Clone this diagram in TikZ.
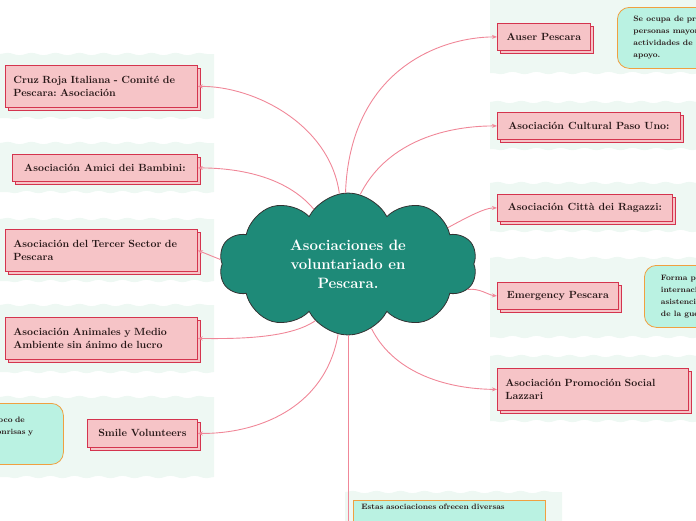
\documentclass[tikz,border=0pt]{standalone}
\usetikzlibrary{shapes.symbols,shadows,arrows.meta,decorations.pathmorphing}
\definecolor{linkpink}{RGB}{240,135,152}
\definecolor{boxpink}{RGB}{246,196,199}
\definecolor{boxred}{RGB}{212,52,78}
\definecolor{cloudgreen}{RGB}{30,138,120}
\definecolor{notegreen}{RGB}{186,242,226}
\definecolor{noteorange}{RGB}{240,160,64}
\definecolor{bandmint}{RGB}{238,248,243}
\definecolor{textdark}{RGB}{40,24,24}
\frenchspacing
\begin{document}
\begin{tikzpicture}[x=1pt,y=-1pt,
  topicbox/.style={draw=boxred, fill=boxpink, line width=0.8pt, anchor=north west, align=left, inner xsep=8pt, inner ysep=3pt, font=\bfseries\fontsize{10.4}{12.5}\selectfont, text=textdark, copy shadow={shadow xshift=3pt, shadow yshift=-3pt}},
  notebox/.style={draw=noteorange, fill=notegreen, line width=0.8pt, anchor=north west, align=left, rounded corners=12pt, font=\bfseries\fontsize{7.8}{12}\selectfont, text=textdark},
  link/.style={draw=linkpink, line width=0.9pt, -{Stealth[length=5pt,width=4pt]}},
  band/.style={fill=bandmint, decoration={snake, amplitude=1.2pt, segment length=24pt}}]
  \useasboundingbox (0,0) rectangle (696,520);
  \clip (0,0) rectangle (696,520);

  % mint bands behind the topics
  \foreach \xa/\ya/\xb/\yb in {0/54/214/118, 0/143/214/192, 0/219/214/281, 0/305/214/372, 0/397/214/477,
      490/-5/700/73, 490/102/700/149, 490/183/700/231, 490/258/700/337, 490/356/700/421, 345/492/562/530}
    \fill[band] (\xa,\ya) decorate {-- (\xb,\ya)} -- (\xb,\yb) decorate {-- (\xa,\yb)} -- cycle;

  \node [cloud, cloud puffs=10, cloud puff arc=125, aspect=1.9, draw=black!80, fill=cloudgreen, line width=0.8pt,
    minimum width=258pt, minimum height=142pt, inner sep=0pt, align=center, text=white,
    font=\bfseries\fontsize{15}{19}\selectfont] (cloud) at (348,264) {Asociaciones de\\voluntariado en\\Pescara.};

  % left topics
  \node [topicbox, text width=176pt, minimum height=42pt] (cruz) at (5,65) {Cruz Roja Italiana - Comité de\\Pescara: Asociación};
  \node [topicbox, minimum width=185pt, minimum height=27pt] (amici) at (12,154) {Asociación Amici dei Bambini:};
  \node [topicbox, text width=176pt, minimum height=42pt] (tercer) at (5,229) {Asociación del Tercer Sector de\\Pescara};
  \node [topicbox, text width=176pt, minimum height=42pt] (animales) at (5,317) {Asociación Animales y Medio\\Ambiente sin ánimo de lucro};
  \node [topicbox, minimum width=110pt, minimum height=28pt] (smile) at (87,419) {Smile Volunteers};
  \node [notebox, minimum width=83pt, minimum height=61pt, text width=58pt, inner xsep=12pt, text depth=28pt] (smilenote) at (-20,403) {poco de\\sonrisas y};

  % right topics
  \node [topicbox, minimum width=93pt, minimum height=27pt] (auser) at (497,23) {Auser Pescara};
  \node [notebox, minimum width=100pt, minimum height=61pt, inner xsep=16pt] (ausernote) at (617,7) {Se ocupa de proteger\\personas mayores\\actividades de ocio\\apoyo.};
  \node [topicbox, minimum width=183pt, minimum height=27pt] (pasouno) at (497,112) {Asociación Cultural Paso Uno:};
  \node [topicbox, minimum width=175pt, minimum height=27pt] (citta) at (497,194) {Asociación Città dei Ragazzi:};
  \node [topicbox, minimum width=121pt, minimum height=27pt] (emergency) at (497,282) {Emergency Pescara};
  \node [notebox, minimum width=100pt, minimum height=62pt, inner xsep=6pt] (emergencynote) at (644,265) {Forma parte de\\internacional de\\asistencia a las\\de la guerra};
  \node [topicbox, text width=175pt, minimum height=42pt] (lazzari) at (497,368) {Asociación Promoción Social\\Lazzari};
  \node [draw=noteorange, fill=notegreen, line width=0.8pt, anchor=north west, align=left, font=\bfseries\fontsize{7.8}{10}\selectfont,
    text=textdark, text width=176pt, inner xsep=8pt, text depth=40pt] (summary) at (353,500) {Estas asociaciones ofrecen diversas};

  % connectors
  \draw [link] (cloud.97) .. controls (330,125) and (255,86) .. (cruz.east);
  \draw [link] (cloud.122) .. controls (285,175) and (235,168) .. (amici.east);
  \draw [link] (cloud.178) -- (tercer.east);
  \draw [link] (cloud.240) .. controls (290,338) and (240,339) .. (animales.east);
  \draw [link] (cloud.262) .. controls (325,410) and (255,434) .. (smile.east);
  \draw [link] (cloud.92) .. controls (350,70) and (440,37) .. (auser.west);
  \draw [link] (cloud.80) .. controls (385,145) and (440,126) .. (pasouno.west);
  \draw [link] (cloud.20) .. controls (480,210) and (488,208) .. (citta.west);
  \draw [link] (cloud.348) .. controls (480,288) and (488,295) .. (emergency.west);
  \draw [link] (cloud.290) .. controls (395,375) and (450,389) .. (lazzari.west);
  \draw [link] (cloud.270) -- (348,560) -- (summary.west |- 0,560);
\end{tikzpicture}
\end{document}
